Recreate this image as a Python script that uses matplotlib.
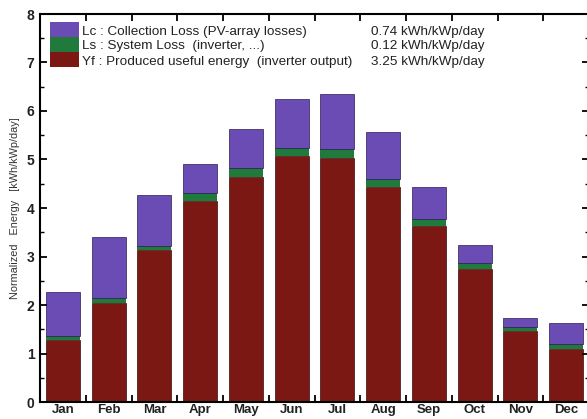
import matplotlib
matplotlib.use("Agg")
import matplotlib.pyplot as plt
from matplotlib.patches import Rectangle
from matplotlib.ticker import MultipleLocator, FixedLocator

plt.rcParams['font.family'] = ['Liberation Sans', 'DejaVu Sans']

months = ["Jan", "Feb", "Mar", "Apr", "May", "Jun", "Jul", "Aug", "Sep", "Oct", "Nov", "Dec"]
yf = [1.28, 2.04, 3.13, 4.14, 4.64, 5.07, 5.03, 4.43, 3.63, 2.74, 1.46, 1.09]
ls = [0.08, 0.10, 0.09, 0.17, 0.18, 0.17, 0.19, 0.17, 0.14, 0.13, 0.09, 0.11]
lc = [0.91, 1.26, 1.05, 0.60, 0.81, 1.01, 1.13, 0.97, 0.66, 0.37, 0.18, 0.43]

legend_labels = ["Lc : Collection Loss (PV-array losses)",
                 "Ls : System Loss  (inverter, ...)",
                 "Yf : Produced useful energy  (inverter output)"]
legend_values = ["0.74 kWh/kWp/day", "0.12 kWh/kWp/day", "3.25 kWh/kWp/day"]

c_lc = "#6a4cb4"
c_ls = "#1f7a3c"
c_yf = "#7c1814"

fig = plt.figure(figsize=(5.87, 4.19), dpi=100)
ax = fig.add_axes([40/587, 17/419, 549/587, 388/419])

x = list(range(1, 13))
w = 0.74
bottom2 = [a + b for a, b in zip(yf, ls)]
ax.bar(x, yf, width=w, color=c_yf, edgecolor="#3a0a08", linewidth=0.5)
ax.bar(x, ls, width=w, bottom=yf, color=c_ls, edgecolor="none")
ax.bar(x, lc, width=w, bottom=bottom2, color=c_lc, edgecolor="#2a1a50", linewidth=0.5)

ax.set_xlim(0.5, 12.5)
ax.set_ylim(0, 8)

ax.xaxis.set_major_locator(FixedLocator([i + 0.5 for i in range(1, 12)]))
ax.xaxis.set_minor_locator(FixedLocator(x))
ax.set_xticklabels([])
ax.set_xticklabels(months, minor=True)
ax.tick_params(axis='x', which='minor', length=0, pad=1.5, labelsize=9.5)
ax.tick_params(axis='x', which='major', direction='in', length=5, width=1.3, top=True)

ax.yaxis.set_major_locator(MultipleLocator(1))
ax.yaxis.set_minor_locator(MultipleLocator(0.5))
ax.tick_params(axis='y', which='major', direction='in', length=5, width=1.3, right=True, labelsize=10, pad=4)
ax.tick_params(axis='y', which='minor', direction='in', length=3, width=1.0, right=True)
for lab in ax.get_yticklabels() + ax.get_xticklabels(minor=True):
    lab.set_fontweight('bold')
    lab.set_color('#222222')

for s in ax.spines.values():
    s.set_linewidth(1.5)

ax.set_ylabel("Normalized   Energy   [kWh/kWp/day]", fontsize=7.8, color='#333333', labelpad=5)

# legend block
colors = [c_lc, c_ls, c_yf]
px0, px1 = 50, 79
ytops = [22, 37, 52]
for i, (col, lab, val) in enumerate(zip(colors, legend_labels, legend_values)):
    yt = ytops[i]
    r = Rectangle((px0 / 587, 1 - (yt + 15) / 419), (px1 - px0) / 587, 15 / 419,
                  transform=fig.transFigure, facecolor=col, edgecolor='none')
    fig.patches.append(r)
    fig.text(82 / 587, 1 - (yt + 9.5) / 419, lab, fontsize=9.7, va='center', ha='left', color='#222222')
    fig.text(371 / 587, 1 - (yt + 9.5) / 419, val, fontsize=9.7, va='center', ha='left', color='#222222')

fig.savefig("out.png", dpi=100)
